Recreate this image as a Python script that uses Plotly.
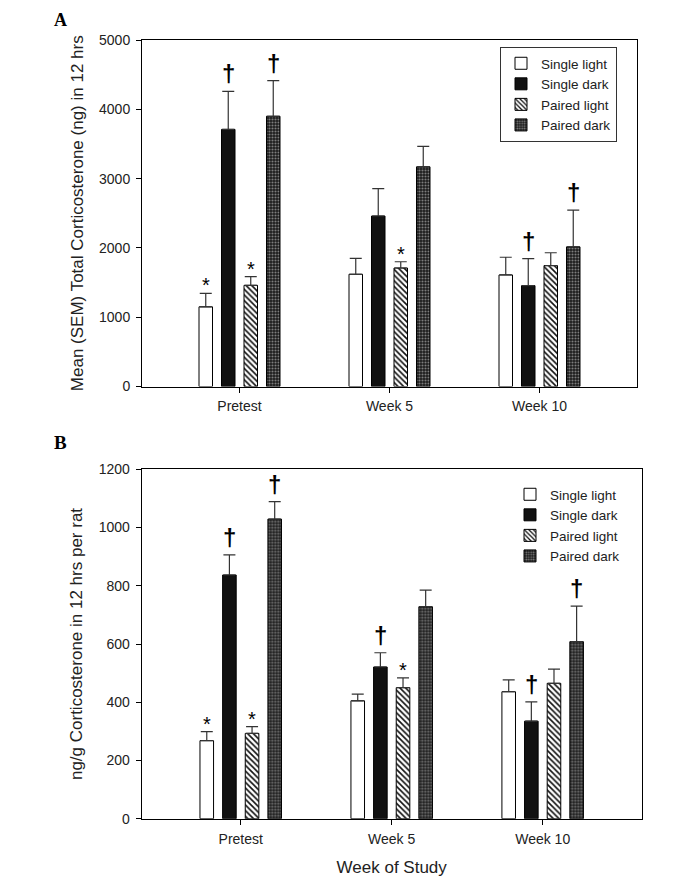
import plotly.graph_objects as go

weeks = ["Pretest", "Week 5", "Week 10"]
series = ["Single light", "Single dark", "Paired light", "Paired dark"]

# Panel A: Mean (SEM) total corticosterone (ng) in 12 hrs
a_single_light = [1150, 1620, 1610]
a_single_dark = [3710, 2460, 1455]
a_paired_light = [1460, 1710, 1745]
a_paired_dark = [3900, 3170, 2015]
a_sem_single_light = [195, 230, 255]
a_sem_single_dark = [550, 395, 390]
a_sem_paired_light = [125, 90, 185]
a_sem_paired_dark = [515, 295, 530]
a_sig_single_light = ["*", "", ""]
a_sig_single_dark = ["†", "", "†"]
a_sig_paired_light = ["*", "*", ""]
a_sig_paired_dark = ["†", "", "†"]

# Panel B: ng/g corticosterone in 12 hrs per rat
b_single_light = [268, 405, 436]
b_single_dark = [837, 521, 335]
b_paired_light = [293, 450, 465]
b_paired_dark = [1029, 728, 608]
b_sem_single_light = [31, 23, 41]
b_sem_single_dark = [69, 49, 66]
b_sem_paired_light = [23, 34, 49]
b_sem_paired_dark = [60, 57, 122]
b_sig_single_light = ["*", "", ""]
b_sig_single_dark = ["†", "†", "†"]
b_sig_paired_light = ["*", "*", ""]
b_sig_paired_dark = ["†", "", "†"]

panel_a = {
    "Single light": (a_single_light, a_sem_single_light, a_sig_single_light),
    "Single dark": (a_single_dark, a_sem_single_dark, a_sig_single_dark),
    "Paired light": (a_paired_light, a_sem_paired_light, a_sig_paired_light),
    "Paired dark": (a_paired_dark, a_sem_paired_dark, a_sig_paired_dark),
}
panel_b = {
    "Single light": (b_single_light, b_sem_single_light, b_sig_single_light),
    "Single dark": (b_single_dark, b_sem_single_dark, b_sig_single_dark),
    "Paired light": (b_paired_light, b_sem_paired_light, b_sig_paired_light),
    "Paired dark": (b_paired_dark, b_sem_paired_dark, b_sig_paired_dark),
}

FONT = "Liberation Sans, Arial, sans-serif"
outline = dict(color="black", width=1)
styles = {
    "Single light": dict(color="white", line=outline),
    "Single dark": dict(color="#111111", line=outline),
    "Paired light": dict(color="white", line=outline,
                         pattern=dict(shape="\\", fgcolor="#111111", bgcolor="white",
                                      size=4, solidity=0.4, fillmode="replace")),
    "Paired dark": dict(color="#333333", line=outline,
                        pattern=dict(shape=".", fgcolor="#7d7d7d", bgcolor="#1c1c1c",
                                     size=3, solidity=0.4, fillmode="replace")),
}

xpos = list(range(len(weeks)))
fig = go.Figure()
annotations = []
slot = 0.15
for panel, xa, ya, leg in [(panel_a, "x", "y", "legend"), (panel_b, "x2", "y2", "legend2")]:
    for j, name in enumerate(series):
        vals, sem, sig = panel[name]
        fig.add_trace(go.Bar(
            x=xpos, y=vals, name=name, xaxis=xa, yaxis=ya, legend=leg,
            marker=styles[name],
            error_y=dict(type="data", array=sem, arrayminus=[0] * len(sem), symmetric=False,
                         color="#333333", thickness=1.2, width=6),
        ))
        for i, s in enumerate(sig):
            if s:
                annotations.append(dict(
                    x=i + (j - 1.5) * slot, y=vals[i] + sem[i], xref=xa, yref=ya,
                    text=s if s == "*" else "<b>†</b>", showarrow=False,
                    yanchor="bottom", xanchor="center",
                    yshift=-5 if s == "*" else 2,
                    font=dict(family=FONT, size=20 if s == "*" else 24, color="black"),
                ))

# page body has an 8px margin: lay the figure out in window pixels
OFF = 8
W, H = 698 - OFF, 879 - OFF
def fx(px):
    return (px - OFF) / W
def fy(py):
    return 1 - (py - OFF) / H

axis_common = dict(showline=True, linecolor="black", linewidth=1, mirror=True,
                   ticks="outside", ticklen=5, tickcolor="black", showgrid=False,
                   zeroline=False, automargin=False,
                   tickfont=dict(family=FONT, size=14, color="#222222"))

fig.update_layout(
    width=W, height=H, margin=dict(l=0, r=0, t=0, b=0),
    paper_bgcolor="white", plot_bgcolor="white",
    barmode="group", bargap=0.4, bargroupgap=0.4,
    font=dict(family=FONT, color="#222222"),
    xaxis=dict(domain=[fx(142), fx(637)], range=[-0.65, 2.65], tickvals=xpos,
               ticktext=weeks, anchor="y", ticklabelstandoff=2, **axis_common),
    yaxis=dict(domain=[fy(386.5), fy(40)], range=[0, 5000], dtick=1000, anchor="x",
               ticklabelstandoff=3,
               title=dict(text="Mean (SEM) Total Corticosterone (ng) in 12 hrs",
                          font=dict(family=FONT, size=17, color="#222222"), standoff=11),
               **axis_common),
    xaxis2=dict(domain=[fx(141.7), fx(641.7)], range=[-0.656, 2.656], tickvals=xpos,
                ticktext=weeks, anchor="y2", ticklabelstandoff=2,
                title=dict(text="Week of Study", font=dict(family=FONT, size=17, color="#222222"),
                           standoff=15),
                **axis_common),
    yaxis2=dict(domain=[fy(818.7), fy(469.3)], range=[0, 1200], dtick=200, anchor="x2",
                ticklabelstandoff=3,
                title=dict(text="ng/g Corticosterone in 12 hrs per rat",
                           font=dict(family=FONT, size=17, color="#222222"), standoff=11),
                **axis_common),
    legend=dict(x=fx(500), y=fy(47), xanchor="left", yanchor="top",
                bordercolor="#333333", borderwidth=1, bgcolor="white",
                entrywidth=120, entrywidthmode="pixels",
                font=dict(family=FONT, size=13.5, color="#222222"), tracegroupgap=0),
    legend2=dict(x=fx(510), y=fy(479), xanchor="left", yanchor="top",
                 bgcolor="rgba(0,0,0,0)", borderwidth=0,
                 font=dict(family=FONT, size=13.5, color="#222222"), tracegroupgap=0),
    annotations=annotations + [
        dict(x=fx(60), y=fy(8), xref="paper", yref="paper", text="<b>A</b>", showarrow=False,
             xanchor="center", yanchor="top",
             font=dict(family="Liberation Serif, serif", size=18, color="black")),
        dict(x=fx(60), y=fy(442), xref="paper", yref="paper", text="<b>B</b>", showarrow=False,
             xanchor="center", yanchor="middle",
             font=dict(family="Liberation Serif, serif", size=19, color="black")),
    ],
)

fig.write_html("out.html")
